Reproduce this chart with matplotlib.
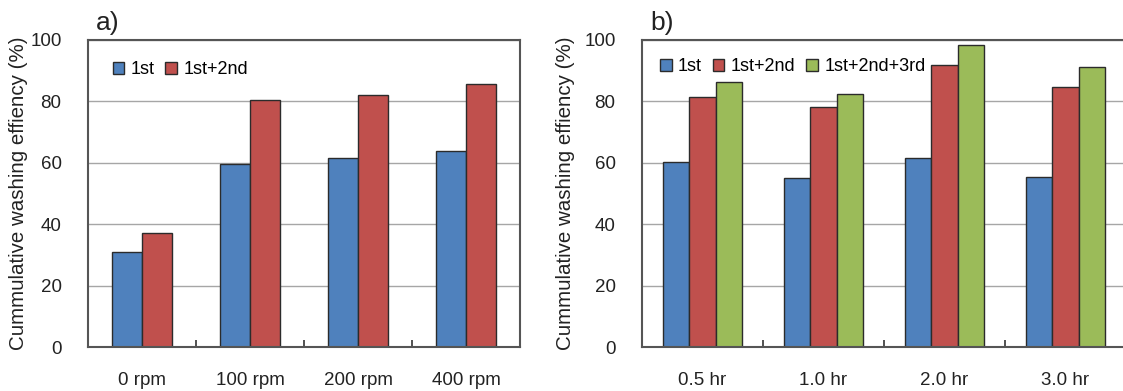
import numpy as np
import matplotlib
matplotlib.use("Agg")
import matplotlib.pyplot as plt

plt.rcParams['font.family'] = ['Liberation Sans', 'DejaVu Sans']

# panel a) - rotation speed
rpm_labels = ['0 rpm', '100 rpm', '200 rpm', '400 rpm']
rpm_1st = [30.8, 59.5, 61.7, 63.7]
rpm_1st2nd = [37.1, 80.5, 82.1, 85.6]

# panel b) - washing time
hr_labels = ['0.5 hr', '1.0 hr', '2.0 hr', '3.0 hr']
hr_1st = [60.1, 55.1, 61.7, 55.5]
hr_1st2nd = [81.4, 78.3, 92.0, 84.8]
hr_1st2nd3rd = [86.2, 82.5, 98.4, 91.2]

blue = '#4F81BD'
red = '#C0504D'
green = '#9BBB59'
edge = '#2b2b2b'

W, H = 1123, 391
fig = plt.figure(figsize=(W / 100, H / 100), dpi=100)

bottom = (H - 347) / H
height = (347 - 40) / H
ax1 = fig.add_axes([88 / W, bottom, (520 - 88) / W, height])
ax2 = fig.add_axes([642 / W, bottom, (1126 - 642) / W, height])


def style(ax, labels, letter, dx):
    ax.set_xlim(-0.5, 3.5)
    ax.set_ylim(0, 100)
    ax.set_yticks([0, 20, 40, 60, 80, 100])
    ax.yaxis.grid(True, color='#a6a6a6', linewidth=1.0)
    ax.set_axisbelow(True)
    ax.tick_params(axis='y', length=0, pad=19, labelsize=13.5, colors='#222222')
    ax.set_xticks([0.5, 1.5, 2.5])
    ax.set_xticks(range(4), minor=True)
    ax.set_xticklabels([])
    ax.set_xticklabels(labels, minor=True)
    ax.tick_params(axis='x', which='major', direction='in', length=5, width=1.2, color='#333333')
    ax.tick_params(axis='x', which='minor', length=0, pad=18, labelsize=13.5, colors='#222222')
    for s in ax.spines.values():
        s.set_color('#555555')
        s.set_linewidth(1.5)
    ax.set_ylabel('Cummulative washing effiency (%)', fontsize=14.8, color='#222222')
    ax.text(dx, 1.033, letter, transform=ax.transAxes, fontsize=19, color='#222222',
            va='baseline', ha='left')


x = np.arange(4)
w1 = 0.275
ax1.bar(x - w1 / 2, rpm_1st, w1, color=blue, edgecolor=edge, linewidth=1.0, label='1st')
ax1.bar(x + w1 / 2, rpm_1st2nd, w1, color=red, edgecolor=edge, linewidth=1.0, label='1st+2nd')
style(ax1, rpm_labels, 'a)', 0.018)
ax1.yaxis.set_label_coords(-0.139, 0.5)
ax1.legend(loc='upper left', bbox_to_anchor=(0.04, 0.955), ncol=2, frameon=False,
           fontsize=13, handlelength=0.65, handleheight=0.65, handletextpad=0.35,
           columnspacing=0.6, borderaxespad=0)

w2 = 0.215
ax2.bar(x - w2, hr_1st, w2, color=blue, edgecolor=edge, linewidth=1.0, label='1st')
ax2.bar(x, hr_1st2nd, w2, color=red, edgecolor=edge, linewidth=1.0, label='1st+2nd')
ax2.bar(x + w2, hr_1st2nd3rd, w2, color=green, edgecolor=edge, linewidth=1.0, label='1st+2nd+3rd')
style(ax2, hr_labels, 'b)', 0.018)
ax2.yaxis.set_label_coords(-0.138, 0.5)
ax2.legend(loc='upper left', bbox_to_anchor=(0.022, 0.965), ncol=3, frameon=False,
           fontsize=13, handlelength=0.65, handleheight=0.65, handletextpad=0.35,
           columnspacing=0.6, borderaxespad=0)

fig.savefig('out.png', dpi=100)
